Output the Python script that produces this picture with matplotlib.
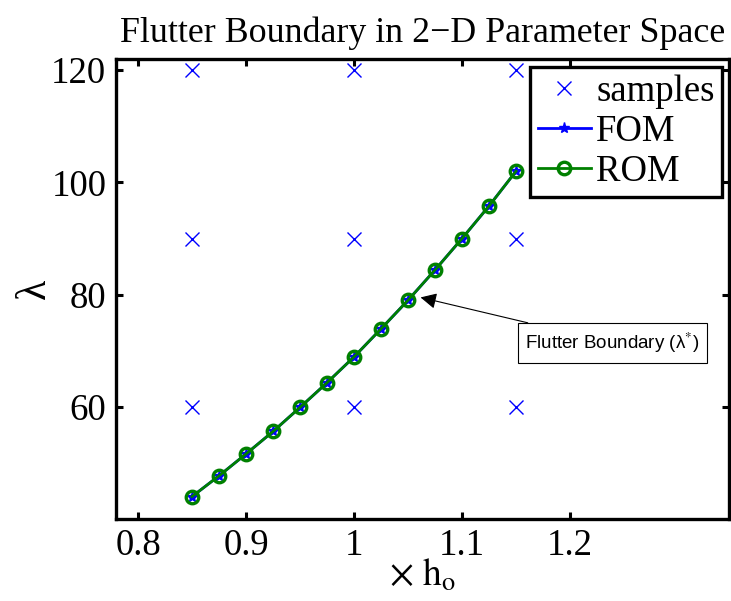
import matplotlib
matplotlib.use("Agg")
import matplotlib.pyplot as plt
import numpy as np

# Data
sample_x = [0.85, 0.85, 0.85, 1.0, 1.0, 1.0, 1.15, 1.15, 1.15]
sample_y = [60, 90, 120, 60, 90, 120, 60, 90, 120]
h_scale = [0.85, 0.875, 0.9, 0.925, 0.95, 0.975, 1.0, 1.025, 1.05, 1.075, 1.1, 1.125, 1.15]
lambda_fom = [44.0, 47.7, 51.6, 55.6, 59.9, 64.3, 68.9, 73.9, 79.0, 84.4, 90.0, 95.8, 102.0]
lambda_rom = [44.0, 47.7, 51.6, 55.6, 59.9, 64.3, 68.9, 73.9, 79.0, 84.4, 90.0, 95.8, 102.0]
xticks = [0.8, 0.9, 1.0, 1.1, 1.2]
xticklabels = ["0.8", "0.9", "1", "1.1", "1.2"]
yticks = [60, 80, 100, 120]

plt.rcParams['font.family'] = ['Liberation Serif', 'DejaVu Serif']
plt.rcParams['mathtext.fontset'] = 'stix'

fig = plt.figure(figsize=(7.31, 6.01), dpi=100)
ax = fig.add_axes([116/731, 82/601, (729-116)/731, (519-59)/601])

green = (0, 0.5, 0)
ax.plot(sample_x, sample_y, linestyle='none', marker='x', color='blue',
        markersize=10, markeredgewidth=1.0, label='samples')
ax.plot(h_scale, lambda_fom, '-', color='blue', marker='*', markersize=8,
        linewidth=2, label='FOM')
ax.plot(h_scale, lambda_rom, '-', color=green, marker='o', markersize=9,
        markerfacecolor='none', markeredgewidth=2.4, linewidth=2, label='ROM')

ax.set_xlim(0.7796, 1.3472)
ax.set_ylim(40, 122)
ax.set_xticks(xticks)
ax.set_xticklabels(xticklabels)
ax.set_yticks(yticks)
ax.tick_params(direction='in', length=5, width=2.2, labelsize=26.5,
               top=True, right=True, pad=7)
for s in ax.spines.values():
    s.set_linewidth(2.4)

ax.set_title('Flutter Boundary in 2\u2212D Parameter Space', fontsize=25.8, pad=12)
ax.set_xlabel(r'$\times\ \mathrm{h}_{\mathrm{o}}$', fontsize=27, labelpad=-4)
ax.set_ylabel('\u03bb', fontsize=30, va='center')
ax.yaxis.set_label_coords(-0.133, 0.5)

leg = ax.legend(loc='upper right', bbox_to_anchor=(0.989, 0.982), fontsize=26.5,
                frameon=True, fancybox=False, edgecolor='black',
                handlelength=1.45, handletextpad=0.15, labelspacing=0.15,
                borderpad=0.2, borderaxespad=0.0)
leg.get_frame().set_linewidth(2.4)
leg.get_frame().set_alpha(1)

ax.annotate('Flutter Boundary (\u03bb$^{*}$)', xy=(1.0616, 79.5), xytext=(1.1585, 71.4),
            xycoords='data', textcoords='data', ha='left', va='center',
            fontsize=13.5, family=['Liberation Sans', 'DejaVu Sans'],
            bbox=dict(boxstyle='square,pad=0.4', fc='white', ec='black', lw=0.8),
            arrowprops=dict(arrowstyle='-|>', color='black', lw=0.8,
                            mutation_scale=24, shrinkA=0, shrinkB=0))

fig.savefig('out.png', dpi=100)
